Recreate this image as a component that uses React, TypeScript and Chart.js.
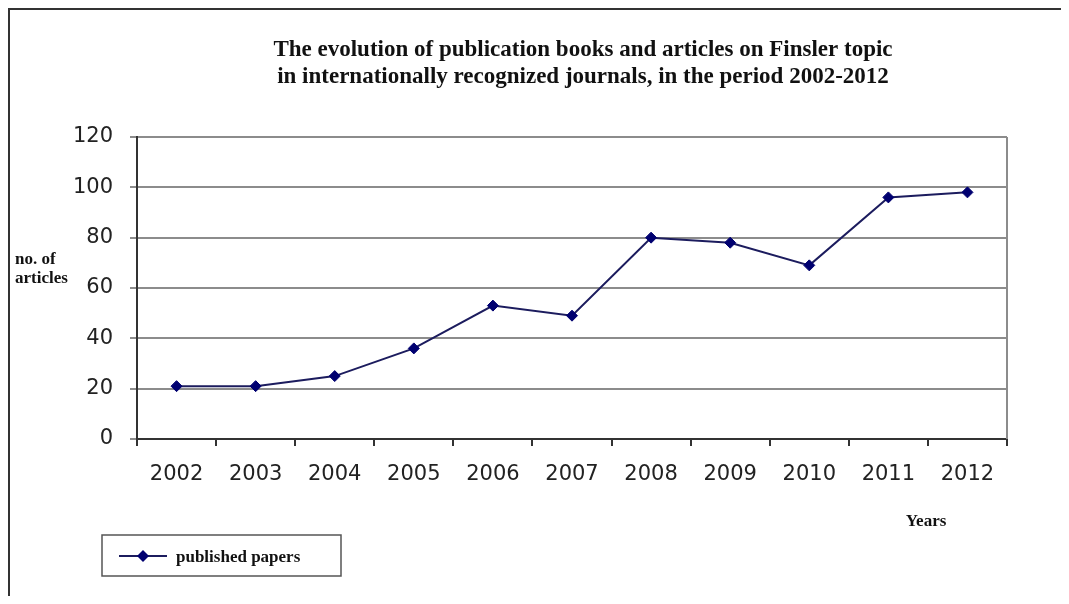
import React, { useEffect, useRef } from "react";
import { Chart, registerables } from "chart.js";

Chart.register(...registerables);

// Publication counts per year
const years = ["2002", "2003", "2004", "2005", "2006", "2007", "2008", "2009", "2010", "2011", "2012"];
const publishedPapers = [21, 21, 25, 36, 53, 49, 80, 78, 69, 96, 98];

// Value axis range
const yMin = 0;
const yMax = 120;
const yStep = 20;

// Texts
const titleLines = [
  "The evolution of publication books and articles on Finsler topic",
  "in internationally recognized journals, in the period 2002-2012",
];
const yTitleLines = ["no. of", "articles"];
const xTitle = "Years";
const seriesLabel = "published papers";

const SERIF = "'Liberation Serif', 'Times New Roman', serif";
const SANS = "'DejaVu Sans', sans-serif";
const LINE_COLOR = "#1c1c5e";
const POINT_COLOR = "#000070";

// Draws the title, axis titles, the plot's right edge and the boxed legend
const decorations = {
  id: "decorations",
  afterDraw(chart: Chart) {
    const { ctx, chartArea } = chart;
    ctx.save();

    // right edge of the plot area
    ctx.strokeStyle = "#8c8c8c";
    ctx.lineWidth = 2;
    ctx.beginPath();
    ctx.moveTo(chartArea.right, chartArea.top);
    ctx.lineTo(chartArea.right, chartArea.bottom);
    ctx.stroke();

    // title
    ctx.fillStyle = "#111";
    ctx.textAlign = "center";
    ctx.textBaseline = "alphabetic";
    ctx.font = `bold 23px ${SERIF}`;
    titleLines.forEach((line, i) => ctx.fillText(line, 573, 46 + i * 27));

    // y axis title
    ctx.textAlign = "left";
    ctx.font = `bold 17px ${SERIF}`;
    yTitleLines.forEach((line, i) => ctx.fillText(line, 5, 254 + i * 19));

    // x axis title
    ctx.textAlign = "center";
    ctx.fillText(xTitle, 916, 516);

    // legend box
    const bx = 92, by = 525, bw = 239, bh = 41;
    ctx.strokeStyle = "#555";
    ctx.lineWidth = 1.5;
    ctx.strokeRect(bx, by, bw, bh);

    const ds = chart.data.datasets[0] as any;
    const sy = by + 21;
    ctx.strokeStyle = ds.borderColor;
    ctx.lineWidth = 2;
    ctx.beginPath();
    ctx.moveTo(bx + 17, sy);
    ctx.lineTo(bx + 65, sy);
    ctx.stroke();
    const cx = bx + 41;
    const r = 6;
    ctx.fillStyle = ds.pointBackgroundColor;
    ctx.beginPath();
    ctx.moveTo(cx, sy - r);
    ctx.lineTo(cx + r, sy);
    ctx.lineTo(cx, sy + r);
    ctx.lineTo(cx - r, sy);
    ctx.closePath();
    ctx.fill();

    ctx.fillStyle = "#111";
    ctx.textAlign = "left";
    ctx.font = `bold 17px ${SERIF}`;
    ctx.fillText(ds.label, bx + 74, by + 27);

    ctx.restore();
  },
};

export default function App() {
  const canvasRef = useRef<HTMLCanvasElement | null>(null);

  useEffect(() => {
    document.documentElement.style.overflow = "hidden";
    document.body.style.overflow = "hidden";
    const canvas = canvasRef.current;
    if (!canvas) return;

    const chart = new Chart(canvas, {
      type: "line",
      data: {
        labels: years,
        datasets: [
          {
            label: seriesLabel,
            data: publishedPapers,
            borderColor: LINE_COLOR,
            borderWidth: 2,
            pointStyle: "rectRot",
            pointRadius: 5.5,
            pointBackgroundColor: POINT_COLOR,
            pointBorderColor: POINT_COLOR,
            pointBorderWidth: 1,
            tension: 0,
            fill: false,
          },
        ],
      },
      options: {
        animation: false,
        responsive: true,
        maintainAspectRatio: false,
        layout: { padding: { top: 127, right: 62, bottom: 97, left: 0 } },
        plugins: {
          legend: { display: false },
          title: { display: false },
          tooltip: { enabled: false },
        },
        scales: {
          x: {
            type: "category",
            offset: true,
            grid: {
              offset: true,
              drawOnChartArea: false,
              drawTicks: true,
              tickLength: 7,
              color: "#333",
              lineWidth: 2,
            },
            border: { display: true, color: "#333", width: 2 },
            ticks: {
              color: "#222",
              font: { family: SANS, size: 21 },
              padding: 16,
              maxRotation: 0,
              autoSkip: false,
            },
            afterFit(scale: any) {
              scale.height = 60;
            },
          },
          y: {
            min: yMin,
            max: yMax,
            grid: {
              drawOnChartArea: true,
              drawTicks: true,
              tickLength: 7,
              color: "#8c8c8c",
              lineWidth: 2,
            },
            border: { display: true, color: "#333", width: 2 },
            ticks: {
              stepSize: yStep,
              color: "#222",
              font: { family: SANS, size: 21 },
              padding: 17,
            },
            afterFit(scale: any) {
              scale.width = 127;
            },
          },
        },
      },
      plugins: [decorations],
    });

    return () => chart.destroy();
  }, []);

  return (
    <div
      style={{
        borderTop: "2px solid #333",
        borderLeft: "2px solid #333",
        width: 1059,
        height: 586,
        position: "relative",
        background: "#fff",
      }}
    >
      <canvas ref={canvasRef} />
    </div>
  );
}
